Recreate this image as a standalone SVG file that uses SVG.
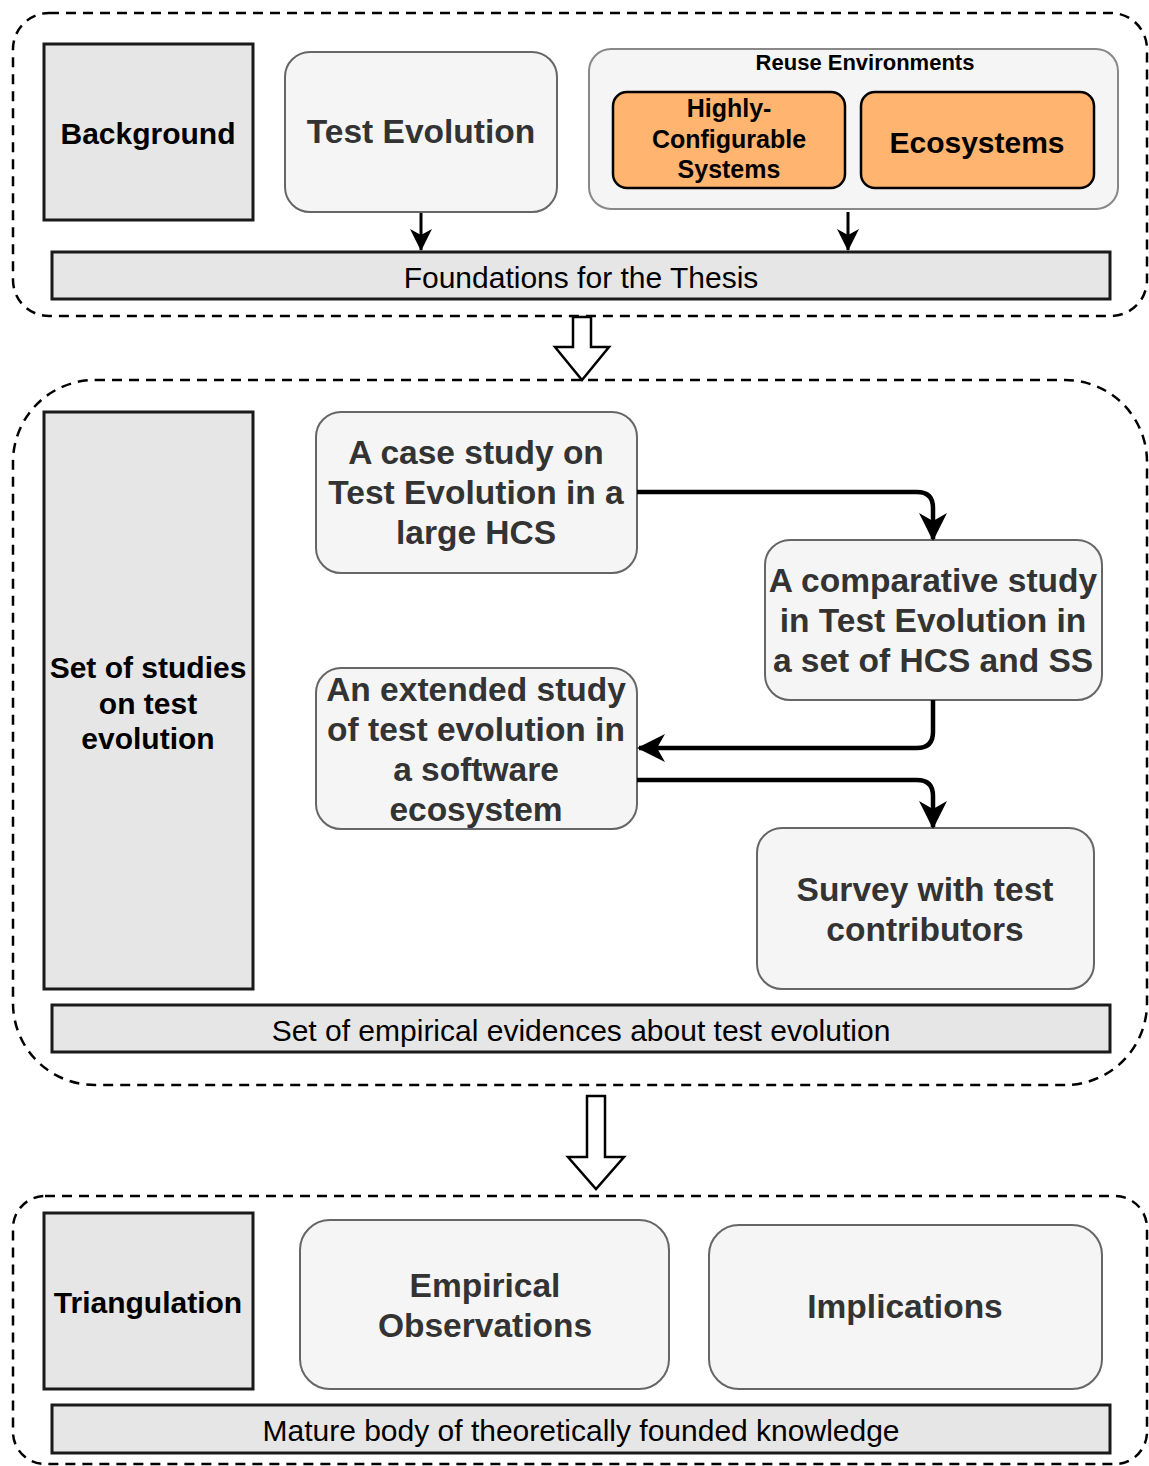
<svg xmlns="http://www.w3.org/2000/svg" width="1149" height="1466" viewBox="0 0 1149 1466">
  <defs>
    <style>
      .container { fill: none; stroke: #000; stroke-width: 2.5; stroke-dasharray: 10 7; }
      .label-box { fill: #e6e6e6; stroke: #1a1a1a; stroke-width: 3; }
      .bar { fill: #e6e6e6; stroke: #1a1a1a; stroke-width: 3; }
      .study { fill: #f5f5f5; stroke: #666; stroke-width: 2; }
      .group-box { fill: #f5f5f5; stroke: #888; stroke-width: 2; }
      .env { fill: #ffb570; stroke: #000; stroke-width: 2.5; }
      .block-arrow { fill: #fff; stroke: #000; stroke-width: 2.5; stroke-linejoin: miter; }
      .edge { fill: none; stroke: #000; stroke-width: 4.5; }
      .edge-thin { fill: none; stroke: #000; stroke-width: 3; }
      text { font-family: "Liberation Sans", Arial, Helvetica, sans-serif; text-anchor: middle; dominant-baseline: central; }
      .t-label { font-weight: bold; font-size: 30px; fill: #000; }
      .t-study { font-weight: bold; font-size: 33.5px; fill: #333; }
      .t-bar { font-size: 30px; fill: #000; }
      .t-env { font-weight: bold; fill: #000; }
    </style>
    <marker id="arrow" markerWidth="30" markerHeight="30" refX="26" refY="14" orient="auto" markerUnits="userSpaceOnUse" viewBox="0 0 30 28">
      <path d="M0,0 L28,14 L0,28 L8,14 Z" fill="#000"/>
    </marker>
    <marker id="arrow-small" markerWidth="24" markerHeight="24" refX="21" refY="11" orient="auto" markerUnits="userSpaceOnUse" viewBox="0 0 24 22">
      <path d="M0,0 L22,11 L0,22 L6,11 Z" fill="#000"/>
    </marker>
  </defs>

  <!-- stage containers -->
  <g id="stage-foundations">
    <rect class="container" x="13" y="13" width="1134" height="303" rx="36" ry="36"/>
  </g>
  <g id="stage-studies">
    <rect class="container" x="13" y="380" width="1134" height="705" rx="82" ry="82"/>
  </g>
  <g id="stage-triangulation">
    <rect class="container" x="13" y="1196" width="1134" height="268" rx="32" ry="32"/>
  </g>

  <!-- top stage -->
  <g id="background">
    <rect class="label-box" x="44" y="44" width="209" height="176"/>
    <text class="t-label" x="148" y="133">Background</text>
  </g>
  <g id="test-evolution">
    <rect class="study" x="285" y="52" width="272" height="160" rx="25"/>
    <text class="t-study" x="421" y="131">Test Evolution</text>
  </g>
  <g id="reuse-environments">
    <rect class="group-box" x="589" y="49" width="529" height="160" rx="22"/>
    <text class="t-env" x="865" y="62" font-size="22">Reuse Environments</text>
  </g>
  <g id="hcs">
    <rect class="env" x="613" y="92" width="232" height="96" rx="14"/>
    <text class="t-env" x="729" y="108" font-size="25">Highly-</text>
    <text class="t-env" x="729" y="139" font-size="25">Configurable</text>
    <text class="t-env" x="729" y="169" font-size="25">Systems</text>
  </g>
  <g id="ecosystems">
    <rect class="env" x="861" y="92" width="233" height="96" rx="14"/>
    <text class="t-env" x="977" y="142" font-size="30">Ecosystems</text>
  </g>
  <g id="foundations">
    <rect class="bar" x="52" y="252" width="1058" height="47"/>
    <text class="t-bar" x="581" y="277">Foundations for the Thesis</text>
  </g>

  <!-- middle stage -->
  <g id="set-of-studies">
    <rect class="label-box" x="44" y="412" width="209" height="577"/>
    <text class="t-label" x="148" y="667">Set of studies</text>
    <text class="t-label" x="148" y="703">on test</text>
    <text class="t-label" x="148" y="738">evolution</text>
  </g>
  <g id="case-study">
    <rect class="study" x="316" y="412" width="321" height="161" rx="25"/>
    <text class="t-study" x="476" y="452">A case study on</text>
    <text class="t-study" x="476" y="492">Test Evolution in a</text>
    <text class="t-study" x="476" y="532">large HCS</text>
  </g>
  <g id="comparative-study">
    <rect class="study" x="765" y="540" width="337" height="160" rx="25"/>
    <text class="t-study" x="933" y="580">A comparative study</text>
    <text class="t-study" x="933" y="620">in Test Evolution in</text>
    <text class="t-study" x="933" y="660">a set of HCS and SS</text>
  </g>
  <g id="extended-study">
    <rect class="study" x="316" y="668" width="321" height="161" rx="25"/>
    <text class="t-study" x="476" y="689">An extended study</text>
    <text class="t-study" x="476" y="729">of test evolution in</text>
    <text class="t-study" x="476" y="769">a software</text>
    <text class="t-study" x="476" y="809">ecosystem</text>
  </g>
  <g id="survey">
    <rect class="study" x="757" y="828" width="337" height="161" rx="25"/>
    <text class="t-study" x="925" y="889">Survey with test</text>
    <text class="t-study" x="925" y="929">contributors</text>
  </g>
  <g id="empirical-evidences">
    <rect class="bar" x="52" y="1005" width="1058" height="47"/>
    <text class="t-bar" x="581" y="1030">Set of empirical evidences about test evolution</text>
  </g>

  <!-- bottom stage -->
  <g id="triangulation">
    <rect class="label-box" x="44" y="1213" width="209" height="176"/>
    <text class="t-label" x="148" y="1302">Triangulation</text>
  </g>
  <g id="empirical-observations">
    <rect class="study" x="300" y="1220" width="369" height="169" rx="30"/>
    <text class="t-study" x="485" y="1285">Empirical</text>
    <text class="t-study" x="485" y="1325">Observations</text>
  </g>
  <g id="implications">
    <rect class="study" x="709" y="1225" width="393" height="164" rx="30"/>
    <text class="t-study" x="905" y="1306">Implications</text>
  </g>
  <g id="mature-knowledge">
    <rect class="bar" x="52" y="1405" width="1058" height="48"/>
    <text class="t-bar" x="581" y="1430">Mature body of theoretically founded knowledge</text>
  </g>

  <!-- connectors -->
  <g id="connectors">
    <path class="edge-thin" d="M421,213 V250" marker-end="url(#arrow-small)"/>
    <path class="edge-thin" d="M848,212 V250" marker-end="url(#arrow-small)"/>
    <path class="edge" d="M637,492 H917 Q933,492 933,508 V539" marker-end="url(#arrow)"/>
    <path class="edge" d="M933,700 V732 Q933,748 917,748 H639" marker-end="url(#arrow)"/>
    <path class="edge" d="M637,780 H917 Q933,780 933,796 V827" marker-end="url(#arrow)"/>
    <!-- hollow block arrows between stages -->
    <path class="block-arrow" d="M573,317 H591 V347 H609 L582,380 L555,347 H573 Z"/>
    <path class="block-arrow" d="M587,1096 H605 V1157 H624 L596,1189 L568,1157 H587 Z"/>
  </g>
</svg>
